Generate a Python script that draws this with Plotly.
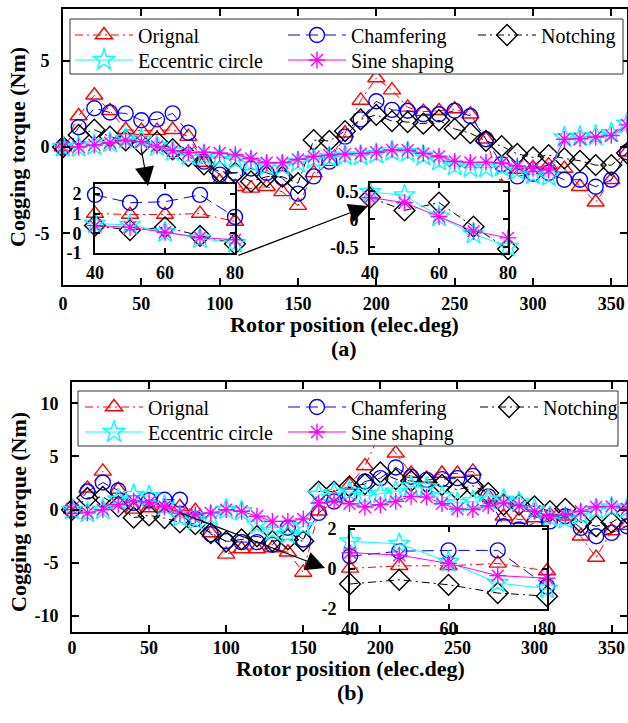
import plotly.graph_objects as go

FONT = "Liberation Serif"
W, H = 628, 723

# ---------------- data ----------------
angle = list(range(0, 361, 10))
inset_angle = [40, 50, 60, 70, 80]
series_names = ["Orignal", "Chamfering", "Notching", "Eccentric circle", "Sine shaping"]

# panel (a)
a_orignal = [0, 1.8, 3.0, 2.1, 1.0, 0.95, 0.95, 1.0, 0.6, -0.9, -2.0, -2.3, -2.4, -2.3, -2.6, -3.4, -1.5, -0.85,
             0.8, 2.7, 4.0, 3.3, 2.3, 2.05, 2.1, 2.2, 1.9, 0.45, -2.3, -1.3, -1.2, -1.05, -1.25, -2.3, -3.2, -1.9, -0.3]
a_chamfering = [0, 1.15, 2.25, 2.0, 1.95, 1.55, 1.6, 1.95, 0.83, -0.85, -1.6, -1.5, -1.25, -1.5, -1.8, -2.7, -1.7, -0.85,
                0.6, 1.6, 2.65, 2.15, 2.1, 1.9, 1.9, 2.1, 1.8, 0.45, -1.0, -1.7, -1.55, -1.5, -1.9, -1.9, -2.3, -1.9, -0.3]
a_notching = [0, 0.7, 1.0, 0.6, 0.39, 0.16, 0.3, -0.13, -0.53, -1.0, -1.43, -1.5, -2.0, -1.72, -1.72, -2.1, 0.4, 0.35,
              0.92, 1.6, 1.86, 1.5, 1.45, 1.35, 1.55, 1.05, 0.8, 0.35, 0.05, -0.4, -0.6, -0.47, -0.66, -0.8, -1.05, -1.05, -0.35]
a_eccentric = [0, 0.0, 0.1, 0.25, 0.49, 0.43, 0.05, -0.26, -0.49, -0.5, -0.6, -0.75, -0.9, -1.1, -1.1, -0.9, -0.7, -0.6,
               -0.5, -0.5, -0.4, -0.25, -0.3, -0.5, -0.8, -1.1, -1.2, -1.2, -1.15, -1.35, -1.6, -1.7, 0.55, 0.6, 0.65, 0.8, 1.35]
a_sine = [0, 0.0, 0.12, 0.25, 0.39, 0.3, 0.05, -0.21, -0.33, -0.3, -0.35, -0.45, -0.66, -0.91, -0.91, -0.72, -0.56, -0.47,
          -0.41, -0.39, -0.3, -0.17, -0.19, -0.37, -0.54, -0.83, -0.89, -0.88, -0.93, -1.1, -1.24, -1.34, 0.45, 0.48, 0.58, 0.67, 1.28]

# panel (b)
b_orignal = [0, 2.0, 3.6, 1.9, 0.03, 0.16, 0.16, 0.28, -0.1, -2.2, -4.2, -3.7, -3.7, -3.6, -4.0, -5.9, -0.15, 1.1,
             2.3, 4.1, 7.2, 5.3, 3.4, 2.95, 3.4, 3.4, 3.6, 1.25, -0.62, -0.93, -0.78, -0.47, -0.62, -2.5, -4.5, -2.0, -1.5]
b_chamfering = [0, 1.7, 2.55, 1.8, 0.64, 0.89, 0.93, 0.93, -0.87, -2.3, -2.96, -3.05, -3.05, -3.3, -1.7, -2.8, -0.3, 0.78,
                1.4, 2.65, 2.96, 3.97, 3.1, 2.8, 2.87, 2.96, 3.18, 1.25, -1.56, -1.87, -1.25, -1.1, -0.62, -1.71, -2.5, -2.18, -1.56]
b_notching = [0, 1.1, 1.2, 0.3, -0.75, -0.54, -0.79, -1.2, -1.36, -2.2, -3.0, -2.8, -2.5, -2.96, -2.8, -2.96, 1.7, 1.7,
              2.18, 2.4, 3.5, 2.87, 2.7, 2.55, 2.34, 1.87, 2.24, 1.56, 0.47, 0.47, 0.31, -0.15, 0.08, -1.2, -1.56, -1.2, -0.31]
b_eccentric = [0, -0.3, 0.0, 0.93, 1.38, 1.26, 0.36, -0.7, -0.98, -0.6, 0.0, -0.15, -1.4, -2.0, -2.3, -1.56, 1.4, 1.56,
               1.7, 1.3, 1.5, 1.7, 2.18, 2.1, 1.25, 0.62, 0.78, 0.93, 0.93, 0.68, 0.0, -0.7, -0.9, -0.5, 0.0, 0.2, 0.1]
b_sine = [0, -0.3, 0.0, 0.47, 0.82, 0.69, 0.28, -0.33, -0.46, -0.3, 0.0, -0.15, -0.62, -1.1, -1.1, -0.87, 0.62, 0.78,
          0.56, 0.25, 0.47, 0.78, 1.25, 1.18, 0.56, 0.06, 0.0, 0.37, 0.62, 0.37, -0.15, -0.62, -0.5, -0.15, 0.25, 0.31, 0.1]

# tick labels
a_xticks = [0, 50, 100, 150, 200, 250, 300, 350]
a_yticks = [-5, 0, 5]
b_yticks = [-10, -5, 0, 5, 10]
inset_xticks = [40, 60, 80]
a_in1_yticks = [-1, 0, 1, 2]
a_in2_yticks = [-0.5, 0, 0.5]
b_in_yticks = [-2, 0, 2]

# ---------------- styles ----------------
colors = ["red", "blue", "black", "cyan", "magenta"]
symbols = ["triangle-up-open", "circle-open", "diamond-open", "star-open", "asterisk-open"]
dashes = ["8px,4px,2px,4px", "12px,6px", "8px,4px,2px,4px", "solid", "solid"]
msizes = [15, 15, 16, 16, 14]


def px_x(p):
    return p / W


def px_y(p):
    return 1 - p / H


fig = go.Figure()


def add_series(xs, ys_list, idx_list, xa, ya, legends=None):
    for k, i in enumerate(idx_list):
        ys = ys_list[k]
        fig.add_trace(go.Scatter(
            x=xs, y=ys, mode="lines+markers", name=series_names[i],
            xaxis=xa, yaxis=ya, cliponaxis=False,
            line=dict(color=colors[i], width=1, dash=dashes[i]),
            marker=dict(symbol=symbols[i], size=msizes[i], color=colors[i],
                        line=dict(color=colors[i], width=1.4)),
            showlegend=legends is not None,
            legend=(legends[k] if legends is not None else None),
        ))


def sl(arr):
    return [arr[angle.index(a)] for a in inset_angle]


a_all = [a_orignal, a_chamfering, a_notching, a_eccentric, a_sine]
b_all = [b_orignal, b_chamfering, b_notching, b_eccentric, b_sine]

add_series(angle, a_all, [0, 1, 2, 3, 4], "x", "y", ["legend", "legend2", "legend3", "legend4", "legend5"])
add_series(inset_angle, [sl(s) for s in a_all], [0, 1, 2, 3, 4], "x2", "y2")
add_series(inset_angle, [sl(s) for s in a_all[2:]], [2, 3, 4], "x3", "y3")
add_series(angle, b_all, [0, 1, 2, 3, 4], "x4", "y4", ["legend6", "legend7", "legend8", "legend9", "legend10"])
add_series(inset_angle, [sl(s) for s in b_all], [0, 1, 2, 3, 4], "x5", "y5")

tickfont = dict(family=FONT, size=18, color="black", weight="bold")
itickfont = dict(family=FONT, size=18, color="black", weight="bold")


def lab(v):
    return "%g" % v


def axis(domain, rng, tickvals, anchor, font=tickfont, ticklen=7, standoff=4):
    return dict(domain=domain, range=rng, tickvals=tickvals, ticktext=[lab(v) for v in tickvals],
                anchor=anchor, showline=True, linecolor="black", linewidth=2, mirror="ticks",
                ticks="inside", ticklen=ticklen, tickwidth=1.5, tickcolor="black",
                showgrid=False, zeroline=False, tickfont=font, ticklabelstandoff=standoff,
                automargin=False)


layout = dict(
    width=W, height=H, margin=dict(l=0, r=0, t=0, b=0, pad=0, autoexpand=False),
    paper_bgcolor="white", plot_bgcolor="white",
    xaxis=axis([px_x(63), px_x(627)], [0, 360], a_xticks, "y", standoff=1),
    yaxis=axis([px_y(285), px_y(9)], [-8, 8], a_yticks, "x", standoff=8),
    xaxis2=axis([px_x(95), px_x(235)], [40, 80], inset_xticks, "y2", itickfont, 5, 2),
    yaxis2=axis([px_y(253), px_y(184)], [-1, 2.5], a_in1_yticks, "x2", itickfont, 5, 8),
    xaxis3=axis([px_x(370), px_x(508)], [40, 80], inset_xticks, "y3", itickfont, 5, 2),
    yaxis3=axis([px_y(253), px_y(183)], [-0.6, 0.65], a_in2_yticks, "x3", itickfont, 5, 6),
    xaxis4=axis([px_x(72), px_x(627)], [0, 360], a_xticks, "y4", standoff=-2),
    yaxis4=axis([px_y(632), px_y(382)], [-11.5, 12], b_yticks, "x4", standoff=8),
    xaxis5=axis([px_x(350), px_x(547)], [40, 80], inset_xticks, "y5", itickfont, 5, 2),
    yaxis5=axis([px_y(609), px_y(527)], [-2, 2.1], b_in_yticks, "x5", itickfont, 5, 8),
    showlegend=True,
)

# legends: one per entry so that positions match the reference layout
leg_pos = [(75, 35), (288, 35), (478, 35), (75, 60), (288, 60),
           (85, 407), (288, 407), (480, 407), (85, 432), (288, 432)]
for k, (lx, ly) in enumerate(leg_pos):
    name = "legend" if k == 0 else "legend%d" % (k + 1)
    layout[name] = dict(x=px_x(lx - 5), y=px_y(ly), xanchor="left", yanchor="middle",
                        orientation="h", bgcolor="rgba(0,0,0,0)", borderwidth=0,
                        itemwidth=58, font=dict(family=FONT, size=20, color="black"))

fig.update_layout(**layout)

# legend frames
for (x0, y0, x1, y1) in [(70, 19, 623, 74), (78, 391, 618, 446)]:
    fig.add_shape(type="rect", xref="paper", yref="paper", x0=px_x(x0), x1=px_x(x1), y0=px_y(y1), y1=px_y(y0),
                  line=dict(color="#333333", width=1), fillcolor="white", layer="above")

# text annotations
tfont = dict(family=FONT, size=22, color="black", weight="bold")
texts = [("Rotor position (elec.deg)", 344, 325, 0), ("(a)", 344, 348, 0),
         ("Rotor position (elec.deg)", 350, 668, 0), ("(b)", 350, 692, 0),
         ("Cogging torque (Nm)", 18, 147, -90), ("Cogging torque (Nm)", 18, 512, -90)]
for t, x, y, rot in texts:
    fig.add_annotation(text=t, x=px_x(x), y=px_y(y), xref="paper", yref="paper", showarrow=False,
                       xanchor="center", yanchor="middle", textangle=rot, font=tfont)

# arrows (head position, tail offset in px)
for hx, hy, ax, ay in [(148, 186, -7, -38), (368, 206, -131, 50), (325, 568, -147, -56)]:
    fig.add_annotation(text="", x=px_x(hx), y=px_y(hy), xref="paper", yref="paper",
                       ax=ax, ay=ay, axref="pixel", ayref="pixel", showarrow=True,
                       arrowhead=2, arrowsize=3.2, arrowwidth=1.2, arrowcolor="black")

fig.write_html("out.html")
